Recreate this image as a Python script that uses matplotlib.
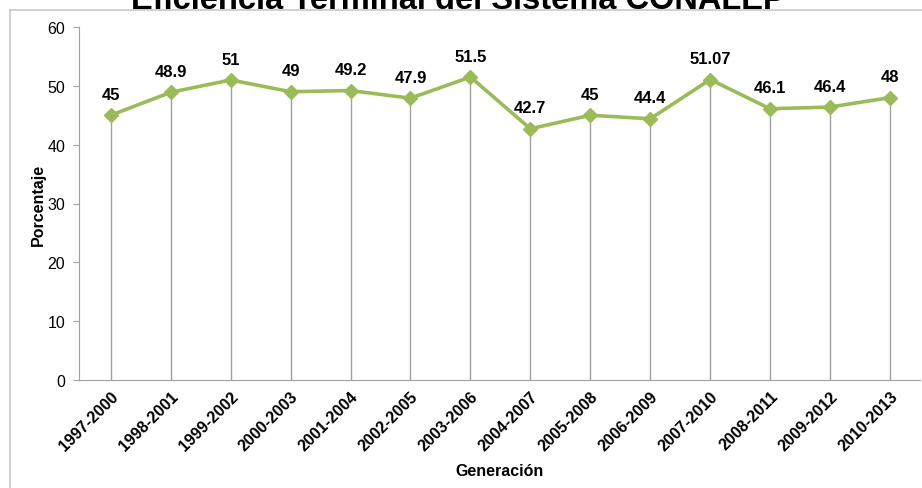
import matplotlib.pyplot as plt
from matplotlib.lines import Line2D

# Datos de la gráfica
generaciones = ['1997-2000', '1998-2001', '1999-2002', '2000-2003', '2001-2004',
                '2002-2005', '2003-2006', '2004-2007', '2005-2008', '2006-2009',
                '2007-2010', '2008-2011', '2009-2012', '2010-2013']
porcentajes = [45, 48.9, 51, 49, 49.2, 47.9, 51.5, 42.7, 45, 44.4, 51.07, 46.1, 46.4, 48]
etiquetas = ['45', '48.9', '51', '49', '49.2', '47.9', '51.5', '42.7', '45', '44.4',
             '51.07', '46.1', '46.4', '48']

plt.rcParams['font.family'] = ['Liberation Sans', 'DejaVu Sans']

fig = plt.figure(figsize=(9.22, 4.89), dpi=100)
ax = fig.add_axes([79 / 922, 1 - 381 / 489, (920 - 79) / 922, (381 - 28) / 489])

x = list(range(len(generaciones)))

# Líneas verticales desde cada punto hasta el eje
ax.vlines(x, 0, porcentajes, color='#a0a0a0', linewidth=1, zorder=1)

ax.plot(x, porcentajes, color='#9bbb59', linewidth=2.6, marker='D',
        markersize=7.5, markerfacecolor='#9bbb59', markeredgecolor='#9bbb59', zorder=3)

for xi, v, t in zip(x, porcentajes, etiquetas):
    ax.annotate(t, (xi, v), xytext=(0, 15), textcoords='offset points',
                ha='center', va='center', fontsize=12, fontweight='bold')

ax.set_xlim(-0.53, 13.5)
ax.set_ylim(0, 60)
ax.set_yticks(range(0, 61, 10))
ax.set_xticks(x)
ax.set_xticklabels(generaciones, rotation=45, ha='right', rotation_mode='anchor',
                   fontsize=11.5, fontweight='bold')
ax.tick_params(axis='x', length=0, pad=6)
ax.tick_params(axis='y', length=4, color='#a0a0a0', labelsize=11.5, pad=6)

for s in ['top', 'right']:
    ax.spines[s].set_visible(False)
for s in ['left', 'bottom']:
    ax.spines[s].set_color('#a0a0a0')

ax.set_ylabel('Porcentaje', fontsize=11.5, fontweight='bold', labelpad=1)
ax.set_xlabel('Generación', fontsize=11.5, fontweight='bold', labelpad=7)

# Título (recortado en la imagen original)
fig.text(0.497, 1 - 9 / 489, 'Eficiencia Terminal del Sistema CONALEP',
         ha='center', va='baseline', fontsize=23.5, fontweight='bold')

# Borde del área del gráfico
fig.add_artist(Line2D([10 / 922, 1], [1 - 11 / 489, 1 - 11 / 489],
                      transform=fig.transFigure, color='#c8c8c8', linewidth=1.2))
fig.add_artist(Line2D([10 / 922, 10 / 922], [0, 1 - 11 / 489],
                      transform=fig.transFigure, color='#c8c8c8', linewidth=1.2))

plt.savefig('out.png', dpi=100)
plt.close()
